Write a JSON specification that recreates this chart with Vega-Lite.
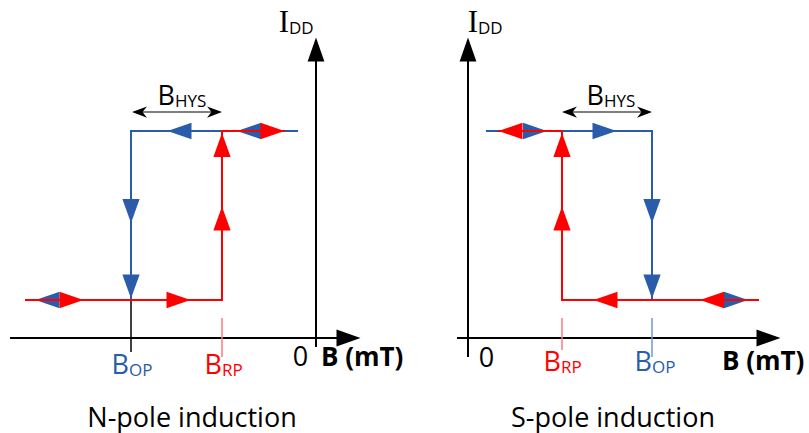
{
  "$schema": "https://vega.github.io/schema/vega-lite/v6.json",
  "padding": 0,
  "spacing": 0,
  "bounds": "flush",
  "background": "white",
  "config": {"view": {"stroke": null}, "font": "Open Sans"},
  "resolve": {"scale": {"shape": "independent"}},
  "datasets": {
    "diagram": [
      {"panel": "N", "kind": "axis", "b": -30.6, "b2": 2.2, "i": 0, "i2": 0},
      {"panel": "N", "kind": "axis", "b": 0, "b2": 0, "i": -0.9, "i2": 27.7},
      {"panel": "N", "kind": "tick", "curve": "axis", "b": -18.5, "b2": -18.5, "i": 3.8, "i2": -1.4},
      {"panel": "N", "kind": "tick", "curve": "rptick", "b": -9.4, "b2": -9.4, "i": 2.0, "i2": -1.9},
      {"panel": "N", "kind": "span", "b": -18.2, "b2": -9.6, "i": 22.6, "i2": 22.6},
      {"panel": "N", "kind": "path", "curve": "op", "seq": 1, "b": -1.8, "i": 20.7},
      {"panel": "N", "kind": "path", "curve": "op", "seq": 2, "b": -18.5, "i": 20.7},
      {"panel": "N", "kind": "path", "curve": "op", "seq": 3, "b": -18.5, "i": 3.8},
      {"panel": "N", "kind": "path", "curve": "rp", "seq": 1, "b": -29.1, "i": 3.8},
      {"panel": "N", "kind": "path", "curve": "rp", "seq": 2, "b": -9.4, "i": 3.8},
      {"panel": "N", "kind": "path", "curve": "rp", "seq": 3, "b": -9.4, "i": 20.7},
      {"panel": "N", "kind": "path", "curve": "rp", "seq": 4, "b": -3.1, "i": 20.7},
      {"panel": "N", "kind": "flow", "curve": "op", "dir": "left", "b": -13.65, "i": 20.7},
      {"panel": "N", "kind": "flow", "curve": "op", "dir": "left", "b": -6.7, "i": 20.7},
      {"panel": "N", "kind": "flow", "curve": "rp", "dir": "right", "b": -4.35, "i": 20.7},
      {"panel": "N", "kind": "flow", "curve": "op", "dir": "down", "b": -18.5, "i": 12.7},
      {"panel": "N", "kind": "flow", "curve": "op", "dir": "down", "b": -18.5, "i": 5.15},
      {"panel": "N", "kind": "flow", "curve": "rp", "dir": "up", "b": -9.4, "i": 19.3},
      {"panel": "N", "kind": "flow", "curve": "rp", "dir": "up", "b": -9.4, "i": 11.95},
      {"panel": "N", "kind": "flow", "curve": "op", "dir": "left", "b": -26.85, "i": 3.8},
      {"panel": "N", "kind": "flow", "curve": "rp", "dir": "right", "b": -24.45, "i": 3.8},
      {"panel": "N", "kind": "flow", "curve": "rp", "dir": "right", "b": -13.75, "i": 3.8},
      {"panel": "N", "kind": "axishead", "dir": "right", "b": 3.25, "i": 0},
      {"panel": "N", "kind": "axishead", "dir": "up", "b": 0, "i": 28.85},
      {"panel": "N", "kind": "spanhead", "dir": "left", "b": -17.65, "i": 22.6},
      {"panel": "N", "kind": "spanhead", "dir": "right", "b": -10.15, "i": 22.6},
      {"panel": "N", "kind": "sym", "curve": "op", "main": "B", "sub": "OP", "b": -18.7, "i": -3.6},
      {"panel": "N", "kind": "sym", "curve": "rp", "main": "B", "sub": "RP", "b": -9.4, "i": -3.6},
      {"panel": "N", "kind": "sym", "curve": "axis", "main": "B", "sub": "HYS", "b": -14.1, "i": 23.3},
      {"panel": "N", "kind": "idd", "curve": "axis", "main": "I", "sub": "DD", "b": -2.7, "i": 30.6},
      {"panel": "N", "kind": "zero", "text": "0", "b": -1.55, "i": -2.8},
      {"panel": "N", "kind": "unit", "text": "B (mT)", "b": 0.5, "i": -2.8},
      {"panel": "N", "kind": "title", "text": "N-pole induction", "b": -12.4, "i": -8.85},

      {"panel": "S", "kind": "axis", "b": -1.1, "b2": 29.0, "i": 0, "i2": 0},
      {"panel": "S", "kind": "axis", "b": 0, "b2": 0, "i": -1.9, "i2": 27.7},
      {"panel": "S", "kind": "tick", "curve": "rptick", "b": 9.4, "b2": 9.4, "i": 2.0, "i2": -1.2},
      {"panel": "S", "kind": "tick", "curve": "optick", "b": 18.4, "b2": 18.4, "i": 2.0, "i2": -1.9},
      {"panel": "S", "kind": "span", "b": 9.6, "b2": 18.2, "i": 22.6, "i2": 22.6},
      {"panel": "S", "kind": "path", "curve": "op", "seq": 1, "b": 1.8, "i": 20.7},
      {"panel": "S", "kind": "path", "curve": "op", "seq": 2, "b": 18.4, "i": 20.7},
      {"panel": "S", "kind": "path", "curve": "op", "seq": 3, "b": 18.4, "i": 3.8},
      {"panel": "S", "kind": "path", "curve": "rp", "seq": 1, "b": 3.0, "i": 20.7},
      {"panel": "S", "kind": "path", "curve": "rp", "seq": 2, "b": 9.4, "i": 20.7},
      {"panel": "S", "kind": "path", "curve": "rp", "seq": 3, "b": 9.4, "i": 3.8},
      {"panel": "S", "kind": "path", "curve": "rp", "seq": 4, "b": 29.1, "i": 3.8},
      {"panel": "S", "kind": "flow", "curve": "rp", "dir": "left", "b": 4.25, "i": 20.7},
      {"panel": "S", "kind": "flow", "curve": "op", "dir": "right", "b": 6.7, "i": 20.7},
      {"panel": "S", "kind": "flow", "curve": "op", "dir": "right", "b": 13.65, "i": 20.7},
      {"panel": "S", "kind": "flow", "curve": "rp", "dir": "up", "b": 9.4, "i": 19.3},
      {"panel": "S", "kind": "flow", "curve": "rp", "dir": "up", "b": 9.4, "i": 11.95},
      {"panel": "S", "kind": "flow", "curve": "op", "dir": "down", "b": 18.4, "i": 12.7},
      {"panel": "S", "kind": "flow", "curve": "op", "dir": "down", "b": 18.4, "i": 5.15},
      {"panel": "S", "kind": "flow", "curve": "rp", "dir": "left", "b": 13.75, "i": 3.8},
      {"panel": "S", "kind": "flow", "curve": "rp", "dir": "left", "b": 24.4, "i": 3.8},
      {"panel": "S", "kind": "flow", "curve": "op", "dir": "right", "b": 26.8, "i": 3.8},
      {"panel": "S", "kind": "axishead", "dir": "right", "b": 30.05, "i": 0},
      {"panel": "S", "kind": "axishead", "dir": "up", "b": 0, "i": 28.85},
      {"panel": "S", "kind": "spanhead", "dir": "left", "b": 10.15, "i": 22.6},
      {"panel": "S", "kind": "spanhead", "dir": "right", "b": 17.65, "i": 22.6},
      {"panel": "S", "kind": "sym", "curve": "rp", "main": "B", "sub": "RP", "b": 9.3, "i": -3.3},
      {"panel": "S", "kind": "sym", "curve": "op", "main": "B", "sub": "OP", "b": 18.4, "i": -3.3},
      {"panel": "S", "kind": "sym", "curve": "axis", "main": "B", "sub": "HYS", "b": 13.6, "i": 23.3},
      {"panel": "S", "kind": "idd", "curve": "axis", "main": "I", "sub": "DD", "b": 1.0, "i": 30.6},
      {"panel": "S", "kind": "zero", "text": "0", "b": 1.85, "i": -2.9},
      {"panel": "S", "kind": "unit", "text": "B (mT)", "b": 25.4, "i": -3.2},
      {"panel": "S", "kind": "title", "text": "S-pole induction", "b": 14.5, "i": -8.85}
    ]
  },
  "hconcat": [
    {
      "width": 400,
      "height": 433,
      "data": {"name": "diagram"},
      "transform": [{"filter": "datum.panel == 'N'"}],
      "resolve": {"scale": {"shape": "independent"}},
      "encoding": {
        "x": {"field": "b", "type": "quantitative", "scale": {"domain": [-31.6, 8.4], "nice": false, "zero": false}, "axis": null},
        "y": {"field": "i", "type": "quantitative", "scale": {"domain": [-9.5, 33.8], "nice": false, "zero": false}, "axis": null}
      },
      "layer": [
        {
          "transform": [{"filter": "datum.kind == 'axis'"}],
          "mark": {"type": "rule", "color": "#000000", "strokeWidth": 2},
          "encoding": {"x2": {"field": "b2"}, "y2": {"field": "i2"}}
        },
        {
          "transform": [{"filter": "datum.kind == 'tick'"}],
          "mark": {"type": "rule", "strokeWidth": 1.5},
          "encoding": {
            "x2": {"field": "b2"}, "y2": {"field": "i2"},
            "color": {"field": "curve", "type": "nominal", "scale": {"domain": ["axis", "op", "rp", "optick", "rptick"], "range": ["#000000", "#2A5CAA", "#FF0000", "#6F97D3", "#FF7A7A"]}, "legend": null}
          }
        },
        {
          "transform": [{"filter": "datum.kind == 'span'"}],
          "mark": {"type": "rule", "color": "#000000", "strokeWidth": 1.2},
          "encoding": {"x2": {"field": "b2"}, "y2": {"field": "i2"}}
        },
        {
          "transform": [{"filter": "datum.kind == 'path' && datum.curve == 'op'"}],
          "mark": {"type": "line", "color": "#2A5CAA", "strokeWidth": 2, "strokeJoin": "miter"},
          "encoding": {"order": {"field": "seq", "type": "quantitative"}}
        },
        {
          "transform": [{"filter": "datum.kind == 'flow' && datum.curve == 'op'"}],
          "mark": {"type": "point", "filled": true, "opacity": 1, "strokeWidth": 0, "size": 576, "color": "#2A5CAA"},
          "encoding": {
            "shape": {"field": "dir", "type": "nominal", "scale": {"domain": ["right", "left", "up", "down"], "range": ["M1,0L-1,-0.68L-1,0.68Z", "M-1,0L1,-0.68L1,0.68Z", "M0,-1L-0.72,1L0.72,1Z", "M0,1L-0.72,-1L0.72,-1Z"]}, "legend": null}
          }
        },
        {
          "transform": [{"filter": "datum.kind == 'path' && datum.curve == 'rp'"}],
          "mark": {"type": "line", "color": "#FF0000", "strokeWidth": 2, "strokeJoin": "miter"},
          "encoding": {"order": {"field": "seq", "type": "quantitative"}}
        },
        {
          "transform": [{"filter": "datum.kind == 'flow' && datum.curve == 'rp'"}],
          "mark": {"type": "point", "filled": true, "opacity": 1, "strokeWidth": 0, "size": 576, "color": "#FF0000"},
          "encoding": {
            "shape": {"field": "dir", "type": "nominal", "scale": {"domain": ["right", "left", "up", "down"], "range": ["M1,0L-1,-0.68L-1,0.68Z", "M-1,0L1,-0.68L1,0.68Z", "M0,-1L-0.72,1L0.72,1Z", "M0,1L-0.72,-1L0.72,-1Z"]}, "legend": null}
          }
        },
        {
          "transform": [{"filter": "datum.kind == 'axishead'"}],
          "mark": {"type": "point", "filled": true, "opacity": 1, "strokeWidth": 0, "size": 576, "color": "#000000"},
          "encoding": {
            "shape": {"field": "dir", "type": "nominal", "scale": {"domain": ["right", "up"], "range": ["M1,0L-1,-0.7L-1,0.7Z", "M0,-1L-0.7,1L0.7,1Z"]}, "legend": null}
          }
        },
        {
          "transform": [{"filter": "datum.kind == 'spanhead'"}],
          "mark": {"type": "point", "filled": true, "opacity": 1, "strokeWidth": 0, "size": 225, "color": "#000000"},
          "encoding": {
            "shape": {"field": "dir", "type": "nominal", "scale": {"domain": ["right", "left"], "range": ["M1,0L-1,-0.75L-0.4,0L-1,0.75Z", "M-1,0L1,-0.75L0.4,0L1,0.75Z"]}, "legend": null}
          }
        },
        {
          "transform": [{"filter": "datum.kind == 'sym'"}],
          "mark": {"type": "text", "align": "right", "baseline": "alphabetic", "fontSize": 27},
          "encoding": {
            "text": {"field": "main"},
            "color": {"field": "curve", "type": "nominal", "scale": {"domain": ["axis", "op", "rp", "optick", "rptick"], "range": ["#000000", "#2A5CAA", "#FF0000", "#6F97D3", "#FF7A7A"]}, "legend": null}
          }
        },
        {
          "transform": [{"filter": "datum.kind == 'sym' || datum.kind == 'idd'"}],
          "mark": {"type": "text", "align": "left", "baseline": "alphabetic", "fontSize": 17, "dy": 2},
          "encoding": {
            "text": {"field": "sub"},
            "color": {"field": "curve", "type": "nominal", "scale": {"domain": ["axis", "op", "rp", "optick", "rptick"], "range": ["#000000", "#2A5CAA", "#FF0000", "#6F97D3", "#FF7A7A"]}, "legend": null}
          }
        },
        {
          "transform": [{"filter": "datum.kind == 'idd'"}],
          "mark": {"type": "text", "align": "right", "baseline": "alphabetic", "fontSize": 31, "font": "Liberation Serif", "color": "#000000"},
          "encoding": {"text": {"field": "main"}}
        },
        {
          "transform": [{"filter": "datum.kind == 'zero' || datum.kind == 'title'"}],
          "mark": {"type": "text", "align": "center", "baseline": "alphabetic", "fontSize": 27, "color": "#000000"},
          "encoding": {"text": {"field": "text"}}
        },
        {
          "transform": [{"filter": "datum.kind == 'unit'"}],
          "mark": {"type": "text", "align": "left", "baseline": "alphabetic", "fontSize": 26, "fontWeight": "bold", "color": "#000000"},
          "encoding": {"text": {"field": "text"}}
        }
      ]
    },
    {
      "width": 409,
      "height": 433,
      "data": {"name": "diagram"},
      "transform": [{"filter": "datum.panel == 'S'"}],
      "resolve": {"scale": {"shape": "independent"}},
      "encoding": {
        "x": {"field": "b", "type": "quantitative", "scale": {"domain": [-6.8, 34.1], "nice": false, "zero": false}, "axis": null},
        "y": {"field": "i", "type": "quantitative", "scale": {"domain": [-9.5, 33.8], "nice": false, "zero": false}, "axis": null}
      },
      "layer": [
        {
          "transform": [{"filter": "datum.kind == 'axis'"}],
          "mark": {"type": "rule", "color": "#000000", "strokeWidth": 2},
          "encoding": {"x2": {"field": "b2"}, "y2": {"field": "i2"}}
        },
        {
          "transform": [{"filter": "datum.kind == 'tick'"}],
          "mark": {"type": "rule", "strokeWidth": 1.5},
          "encoding": {
            "x2": {"field": "b2"}, "y2": {"field": "i2"},
            "color": {"field": "curve", "type": "nominal", "scale": {"domain": ["axis", "op", "rp", "optick", "rptick"], "range": ["#000000", "#2A5CAA", "#FF0000", "#6F97D3", "#FF7A7A"]}, "legend": null}
          }
        },
        {
          "transform": [{"filter": "datum.kind == 'span'"}],
          "mark": {"type": "rule", "color": "#000000", "strokeWidth": 1.2},
          "encoding": {"x2": {"field": "b2"}, "y2": {"field": "i2"}}
        },
        {
          "transform": [{"filter": "datum.kind == 'path' && datum.curve == 'op'"}],
          "mark": {"type": "line", "color": "#2A5CAA", "strokeWidth": 2, "strokeJoin": "miter"},
          "encoding": {"order": {"field": "seq", "type": "quantitative"}}
        },
        {
          "transform": [{"filter": "datum.kind == 'flow' && datum.curve == 'op'"}],
          "mark": {"type": "point", "filled": true, "opacity": 1, "strokeWidth": 0, "size": 576, "color": "#2A5CAA"},
          "encoding": {
            "shape": {"field": "dir", "type": "nominal", "scale": {"domain": ["right", "left", "up", "down"], "range": ["M1,0L-1,-0.68L-1,0.68Z", "M-1,0L1,-0.68L1,0.68Z", "M0,-1L-0.72,1L0.72,1Z", "M0,1L-0.72,-1L0.72,-1Z"]}, "legend": null}
          }
        },
        {
          "transform": [{"filter": "datum.kind == 'path' && datum.curve == 'rp'"}],
          "mark": {"type": "line", "color": "#FF0000", "strokeWidth": 2, "strokeJoin": "miter"},
          "encoding": {"order": {"field": "seq", "type": "quantitative"}}
        },
        {
          "transform": [{"filter": "datum.kind == 'flow' && datum.curve == 'rp'"}],
          "mark": {"type": "point", "filled": true, "opacity": 1, "strokeWidth": 0, "size": 576, "color": "#FF0000"},
          "encoding": {
            "shape": {"field": "dir", "type": "nominal", "scale": {"domain": ["right", "left", "up", "down"], "range": ["M1,0L-1,-0.68L-1,0.68Z", "M-1,0L1,-0.68L1,0.68Z", "M0,-1L-0.72,1L0.72,1Z", "M0,1L-0.72,-1L0.72,-1Z"]}, "legend": null}
          }
        },
        {
          "transform": [{"filter": "datum.kind == 'axishead'"}],
          "mark": {"type": "point", "filled": true, "opacity": 1, "strokeWidth": 0, "size": 576, "color": "#000000"},
          "encoding": {
            "shape": {"field": "dir", "type": "nominal", "scale": {"domain": ["right", "up"], "range": ["M1,0L-1,-0.7L-1,0.7Z", "M0,-1L-0.7,1L0.7,1Z"]}, "legend": null}
          }
        },
        {
          "transform": [{"filter": "datum.kind == 'spanhead'"}],
          "mark": {"type": "point", "filled": true, "opacity": 1, "strokeWidth": 0, "size": 225, "color": "#000000"},
          "encoding": {
            "shape": {"field": "dir", "type": "nominal", "scale": {"domain": ["right", "left"], "range": ["M1,0L-1,-0.75L-0.4,0L-1,0.75Z", "M-1,0L1,-0.75L0.4,0L1,0.75Z"]}, "legend": null}
          }
        },
        {
          "transform": [{"filter": "datum.kind == 'sym'"}],
          "mark": {"type": "text", "align": "right", "baseline": "alphabetic", "fontSize": 27},
          "encoding": {
            "text": {"field": "main"},
            "color": {"field": "curve", "type": "nominal", "scale": {"domain": ["axis", "op", "rp", "optick", "rptick"], "range": ["#000000", "#2A5CAA", "#FF0000", "#6F97D3", "#FF7A7A"]}, "legend": null}
          }
        },
        {
          "transform": [{"filter": "datum.kind == 'sym' || datum.kind == 'idd'"}],
          "mark": {"type": "text", "align": "left", "baseline": "alphabetic", "fontSize": 17, "dy": 2},
          "encoding": {
            "text": {"field": "sub"},
            "color": {"field": "curve", "type": "nominal", "scale": {"domain": ["axis", "op", "rp", "optick", "rptick"], "range": ["#000000", "#2A5CAA", "#FF0000", "#6F97D3", "#FF7A7A"]}, "legend": null}
          }
        },
        {
          "transform": [{"filter": "datum.kind == 'idd'"}],
          "mark": {"type": "text", "align": "right", "baseline": "alphabetic", "fontSize": 31, "font": "Liberation Serif", "color": "#000000"},
          "encoding": {"text": {"field": "main"}}
        },
        {
          "transform": [{"filter": "datum.kind == 'zero' || datum.kind == 'title'"}],
          "mark": {"type": "text", "align": "center", "baseline": "alphabetic", "fontSize": 27, "color": "#000000"},
          "encoding": {"text": {"field": "text"}}
        },
        {
          "transform": [{"filter": "datum.kind == 'unit'"}],
          "mark": {"type": "text", "align": "left", "baseline": "alphabetic", "fontSize": 26, "fontWeight": "bold", "color": "#000000"},
          "encoding": {"text": {"field": "text"}}
        }
      ]
    }
  ]
}
